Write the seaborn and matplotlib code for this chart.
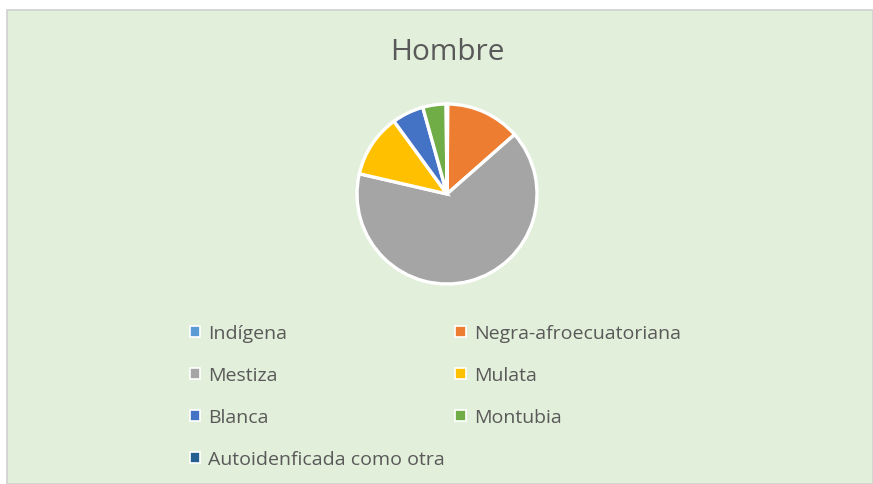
import matplotlib
matplotlib.use("Agg")
import matplotlib.pyplot as plt
from matplotlib.patches import Rectangle, Patch
import seaborn as sns

categories = ["Indígena", "Negra-afroecuatoriana", "Mestiza", "Mulata",
              "Blanca", "Montubia", "Autoidenficada como otra"]
values = [0.15, 13.4, 65.3, 11.4, 5.7, 4.2, 0.15]
colors = ["#5B9BD5", "#ED7D31", "#A5A5A5", "#FFC000", "#4472C4", "#70AD47", "#255E91"]
title = "Hombre"

sns.set_theme(style="white")
plt.rcParams['font.family'] = ['Open Sans', 'DejaVu Sans']
palette = sns.color_palette(colors)

W, H = 873, 485
fig = plt.figure(figsize=(W / 100, H / 100), dpi=100)
fig.patch.set_facecolor("white")

# chart area background
bg = Rectangle((7 / W, 0), 1 - 7 / W, (H - 11) / H,
               transform=fig.transFigure, facecolor="#E2EFDA",
               edgecolor="#D0D0D0", linewidth=1.2, zorder=-10)
fig.add_artist(bg)

cx, cy, r = 447, 195, 90
ax = fig.add_axes([(cx - r) / W, (H - cy - r) / H, 2 * r / W, 2 * r / H])
ax.set_zorder(5)
ax.set_facecolor("none")
wedges, _ = ax.pie(values, colors=palette, startangle=90, counterclock=False,
                   radius=1.0, wedgeprops=dict(edgecolor="white", linewidth=2.4))
ax.set_xlim(-1.0, 1.0)
ax.set_ylim(-1.0, 1.0)
ax.set_aspect("equal")
ax.axis("off")

fig.text(cx / W, 1 - 53 / H, title, ha="center", va="center",
         fontsize=21.5, color="#595959")

order = [0, 2, 4, 6, 1, 3, 5]
handles = [Patch(facecolor=palette[i], edgecolor="white", linewidth=1.2) for i in order]
labels = [categories[i] for i in order]
leg = fig.legend(handles, labels, ncol=2, loc="upper left",
                 bbox_to_anchor=(172 / W, 1 - 308 / H), frameon=False,
                 fontsize=14, labelcolor="#595959", handlelength=0.55,
                 handleheight=0.55, handletextpad=0.4, labelspacing=1.23,
                 columnspacing=0.55)
leg.set_zorder(6)

fig.savefig("out.png", dpi=100, facecolor=fig.get_facecolor())
